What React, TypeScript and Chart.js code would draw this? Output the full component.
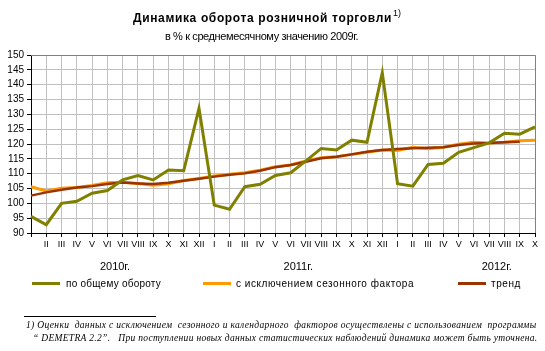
import React, { useEffect, useRef } from "react";
import { Chart, registerables } from "chart.js";

Chart.register(...registerables);

const months = ["I", "II", "III", "IV", "V", "VI", "VII", "VIII", "IX", "X", "XI", "XII",
  "I", "II", "III", "IV", "V", "VI", "VII", "VIII", "IX", "X", "XI", "XII",
  "I", "II", "III", "IV", "V", "VI", "VII", "VIII", "IX", "X"];

const totalTurnover = [95.6, 92.8, 100.0, 100.7, 103.4, 104.3, 107.9, 109.4, 107.9, 111.2, 111.0, 132.0,
  99.4, 98.0, 105.6, 106.4, 109.4, 110.3, 114.3, 118.5, 118.0, 121.3, 120.6, 144.0,
  106.6, 105.8, 113.1, 113.5, 117.2, 118.8, 120.4, 123.6, 123.3, 125.8];

const seasonallyAdjusted = [105.6, 104.2, 105.1, 105.3, 106.0, 106.9, 107.1, 106.7, 106.1, 106.6, 107.7, 108.4,
  109.2, 109.8, 110.3, 111.2, 112.3, 112.9, 114.3, 115.4, 115.7, 116.5, 117.2, 118.0,
  117.8, 118.9, 118.4, 118.9, 119.9, 120.6, 120.3, 120.6, 121.1, 121.3];

const trend = [102.6, 103.7, 104.6, 105.3, 105.8, 106.5, 107.0, 106.7, 106.5, 106.9, 107.6, 108.3,
  109.0, 109.6, 110.1, 111.0, 112.2, 112.9, 114.0, 115.2, 115.7, 116.5, 117.4, 118.0,
  118.3, 118.6, 118.7, 118.9, 119.7, 120.2, 120.3, 120.6, 120.8, null];

const yearLabels = ["2010г.", "2011г.", "2012г."];
const seriesNames = ["по общему обороту", "с исключением сезонного фактора", "тренд"];
const seriesColors = ["#808000", "#FF9900", "#993300"];

const titleText = "Динамика оборота розничной торговли";
const titleSup = "1)";
const subtitleText = "в % к среднемесячному значению 2009г.";
const footLines = [
  "1) Оценки  данных с исключением  сезонного и календарного  факторов осуществлены с использованием  программы",
  "“ DEMETRA 2.2”.   При поступлении новых данных статистических наблюдений динамика может быть уточнена.",
];

const SANS = "'Liberation Sans', Arial, sans-serif";
const SERIF = "'Liberation Serif', 'Times New Roman', serif";

function fitText(ctx: CanvasRenderingContext2D, text: string, x1: number, x2: number, y: number) {
  (ctx as any).letterSpacing = "0px";
  const w = ctx.measureText(text).width;
  const s = (x2 - x1 - w) / text.length;
  (ctx as any).letterSpacing = s.toFixed(2) + "px";
  ctx.textAlign = "left";
  ctx.fillText(text, x1, y);
  (ctx as any).letterSpacing = "0px";
}

const decor = {
  id: "decor",
  beforeDatasetsDraw(chart: any) {
    const { ctx, chartArea } = chart;
    ctx.save();
    ctx.strokeStyle = "#808080";
    ctx.lineWidth = 1;
    ctx.beginPath();
    ctx.moveTo(chartArea.left, chartArea.top + 0.5);
    ctx.lineTo(chartArea.right + 0.5, chartArea.top + 0.5);
    ctx.lineTo(chartArea.right + 0.5, chartArea.bottom);
    ctx.stroke();
    ctx.restore();
  },
  afterDraw(chart: any) {
    const { ctx } = chart;
    ctx.save();
    ctx.fillStyle = "#000";
    ctx.textBaseline = "alphabetic";

    ctx.font = "bold 12px " + SANS;
    fitText(ctx, titleText, 133, 392, 22);
    ctx.font = "9px " + SANS;
    ctx.textAlign = "left";
    ctx.fillText(titleSup, 393, 16);

    ctx.font = "11px " + SANS;
    fitText(ctx, subtitleText, 165, 358, 40);

    const xs = chart.scales.x;
    ctx.font = "11px " + SANS;
    ctx.textAlign = "center";
    const yearCenters = [5.5, 17.5, 30.5];
    yearLabels.forEach((t, i) => {
      ctx.fillText(t, xs.getPixelForValue(yearCenters[i]), 270);
    });

    const leg = [
      { x: 32, tx: 66, te: 161 },
      { x: 203, tx: 236, te: 414 },
      { x: 458, tx: 491, te: 521 },
    ];
    ctx.font = "10px " + SANS;
    leg.forEach((l, i) => {
      ctx.strokeStyle = seriesColors[i];
      ctx.lineWidth = 3;
      ctx.beginPath();
      ctx.moveTo(l.x, 283.5);
      ctx.lineTo(l.x + 28, 283.5);
      ctx.stroke();
      ctx.fillStyle = "#000";
      fitText(ctx, seriesNames[i], l.tx, l.te, 287);
    });

    ctx.strokeStyle = "#000";
    ctx.lineWidth = 1;
    ctx.beginPath();
    ctx.moveTo(24, 316.5);
    ctx.lineTo(156, 316.5);
    ctx.stroke();
    ctx.font = "italic 9.5px " + SERIF;
    fitText(ctx, footLines[0], 26, 537, 328);
    fitText(ctx, footLines[1], 33, 537, 341);
    ctx.restore();
  },
};

export default function App() {
  const ref = useRef<HTMLCanvasElement>(null);
  useEffect(() => {
    if (!ref.current) return;
    Chart.defaults.font.family = SANS;
    const chart = new Chart(ref.current, {
      type: "line",
      data: {
        labels: months,
        datasets: [
          { label: seriesNames[0], data: totalTurnover, borderColor: seriesColors[0], borderWidth: 3, pointRadius: 0, tension: 0, fill: false },
          { label: seriesNames[2], data: trend, borderColor: seriesColors[2], borderWidth: 2.5, pointRadius: 0, tension: 0, fill: false },
          { label: seriesNames[1], data: seasonallyAdjusted, borderColor: seriesColors[1], borderWidth: 3, pointRadius: 0, tension: 0, fill: false },
        ],
      },
      options: {
        responsive: false,
        animation: false,
        events: [],
        layout: { padding: { left: 0, right: 10, top: 55, bottom: 98 } },
        plugins: { legend: { display: false }, title: { display: false }, tooltip: { enabled: false } },
        scales: {
          x: {
            type: "category",
            offset: false,
            grid: { color: "#c0c0c0", lineWidth: 1, drawTicks: true, tickLength: 4, tickColor: "#000" },
            border: { color: "#000", width: 1 },
            ticks: {
              autoSkip: false, maxRotation: 0, minRotation: 0, padding: 2, color: "#000",
              font: { size: 9, family: SANS },
              callback: (v: any, i: number) => (i === 0 ? "" : months[i]),
            },
            afterFit: (s: any) => { s.height = 20; },
          },
          y: {
            min: 90, max: 150,
            grid: { color: "#c0c0c0", lineWidth: 1, drawTicks: true, tickLength: 4, tickColor: "#000" },
            border: { color: "#000", width: 1 },
            ticks: { stepSize: 5, autoSkip: false, padding: 3, color: "#000", font: { size: 10, family: SANS } },
            afterFit: (s: any) => { s.width = 31; },
          },
        },
      },
      plugins: [decor],
    });
    return () => chart.destroy();
  }, []);
  return (
    <div style={{ position: "absolute", left: 0, top: 0, width: 545, height: 351, background: "#fff" }}>
      <canvas ref={ref} width={545} height={351} style={{ width: 545, height: 351, display: "block" }} />
    </div>
  );
}
